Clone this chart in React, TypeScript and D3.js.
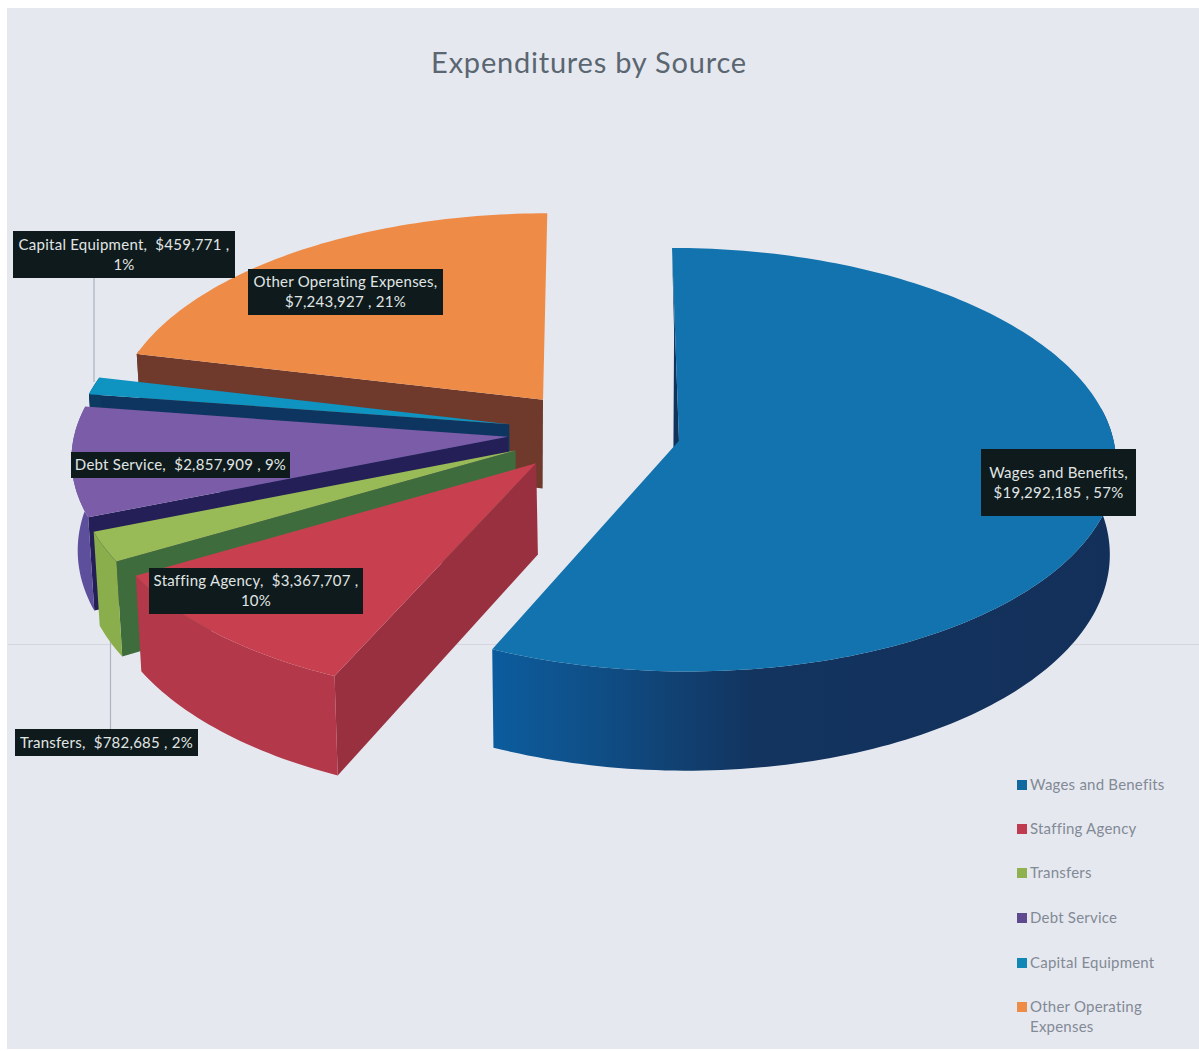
import React from "react";
import * as d3 from "d3";

// Expenditure amounts by category, in dollars
const categories = ["Wages and Benefits", "Staffing Agency", "Transfers", "Debt Service", "Capital Equipment", "Other Operating Expenses"];
const amounts = [19292185, 3367707, 782685, 2857909, 459771, 7243927];
const percentLabels = ["57%", "10%", "2%", "9%", "1%", "21%"];

// Palette: top face, outer rim, radial cut face
const topColors = ["#1273ae", "#c8404f", "#98bb57", "#7a5ca8", "#0f93c1", "#ee8b47"];
const rimColors = ["url(#wagesRim)", "#b3384a", "#8bae4c", "#5d4f9c", "#0d3a60", "#6f3a2b"];
const cutColors = ["#10335c", "#98303f", "#3f6c3d", "#241f56", "#0e3560", "#6f3a2b"];
const legendColors = ["#12699f", "#bf3b4f", "#8fb24f", "#5f4a8f", "#1087b5", "#ee8b47"];

// Pie projection parameters
const CX = 594, CY = 432, RX = 433, KY = 208.5, PERSPECTIVE = 0.089;
const EXPLODE = 0.2, DEPTH = 90, FLOOR_SCALE = 0.988;
const apexLean = [-5, 1, 0, 0, 0, -1];
const outerLean = [3, 0, 0, 0, 0, 0];
const sliceNudge = [0, 1, 0, 0, 0, 2];

// The outer wall only shows on the front of the pie
const RIM_FROM = (80 * Math.PI) / 180;
const RIM_TO = (285 * Math.PI) / 180;

type Pt = [number, number];

// Project a disc coordinate (x to the right, y towards the viewer) to screen space.
function project(x: number, y: number, drop: boolean): Pt {
  const s = 1 / (1 - PERSPECTIVE * y);
  const sx = CX + x * RX * s;
  const sy = CY + y * KY * s;
  if (!drop) return [sx, sy];
  return [CX + (sx - CX) * FLOOR_SCALE, sy + DEPTH * s];
}

const pieLayout = d3.pie<number>().sort(null).startAngle(0).endAngle(2 * Math.PI);
const line = d3.line();

// Label boxes: text lines derived from the data, plus box geometry
const money = d3.format("$,");
const labelText = (i: number): string[] => {
  const name = categories[i], val = money(amounts[i]), pct = percentLabels[i];
  if (i === 0 || i === 5) return [`${name},`, `${val} , ${pct}`];
  if (i === 1 || i === 4) return [`${name},  ${val} ,`, pct];
  return [`${name},  ${val} , ${pct}`];
};
const labelBoxes = [
  { x: 981, y: 449, w: 155, h: 67 },
  { x: 149, y: 568, w: 214, h: 46 },
  { x: 15, y: 729, w: 183, h: 27 },
  { x: 71, y: 452, w: 219, h: 26 },
  { x: 13, y: 231, w: 222, h: 47 },
  { x: 248, y: 269, w: 195, h: 46 },
];

const legendRows = [785, 829, 873, 918, 963, 1007];
const FONT = "Lato, 'Open Sans', sans-serif";

export default function App() {
  const arcs = pieLayout(amounts);

  const slices = arcs.map((a, i) => {
    const mid = (a.startAngle + a.endAngle) / 2;
    const ox = EXPLODE * Math.sin(mid);
    const oy = -EXPLODE * Math.cos(mid);
    const nudge = (p: Pt): Pt => [p[0] + sliceNudge[i], p[1]];
    const at = (theta: number, drop: boolean): Pt => nudge(project(ox + Math.sin(theta), oy - Math.cos(theta), drop));
    const apex = nudge(project(ox, oy, false));
    const apexLow = nudge(project(ox, oy, true));
    apexLow[0] += apexLean[i];
    const outerLow = at(a.startAngle, true);
    outerLow[0] += outerLean[i];
    const n = Math.max(6, Math.ceil((a.endAngle - a.startAngle) / 0.02));
    const thetas = d3.range(n + 1).map((k) => a.startAngle + ((a.endAngle - a.startAngle) * k) / n);
    const rimTheta = thetas.filter((t) => t >= RIM_FROM && t <= RIM_TO);
    const rimTop = rimTheta.map((t) => at(t, false));
    const rimLow = rimTheta.map((t) => at(t, true));
    return {
      i,
      top: line([apex, ...thetas.map((t) => at(t, false))])! + "Z",
      rim: rimTheta.length > 1 ? line([...rimTop, ...rimLow.slice().reverse()])! + "Z" : "",
      cutStart: line([apex, at(a.startAngle, false), outerLow, apexLow])! + "Z",
    };
  });

  // Back slices first, the front slice last
  const order = [5, 4, 3, 2, 1, 0];

  return (
    <svg width={1199} height={1051} viewBox="0 0 1199 1051" style={{ position: "absolute", left: 0, top: 0, display: "block" }} fontFamily={FONT}>
      <defs>
        <linearGradient id="wagesRim" x1="0" x2="1" y1="0" y2="0">
          <stop offset="0" stopColor="#0c5c9e" />
          <stop offset="0.15" stopColor="#0f5089" />
          <stop offset="0.42" stopColor="#12345f" />
          <stop offset="1" stopColor="#13305a" />
        </linearGradient>
      </defs>
      <rect width={1199} height={1051} fill="#ffffff" />
      <rect x={7} y={8} width={1192} height={1041} fill="#e6e8f0" />
      <line x1={8} x2={1199} y1={644.5} y2={644.5} stroke="#d3d6dd" strokeWidth={1} />

      <text x={589} y={72.5} textAnchor="middle" fontSize={29} letterSpacing={0.78} fill="#5a6670">Expenditures by Source</text>

      {/* Leader lines for the two outside labels */}
      <line x1={94} x2={94} y1={278} y2={382} stroke="#aab2bd" strokeWidth={1.2} />
      <line x1={110.5} x2={110.5} y1={640} y2={729} stroke="#aab2bd" strokeWidth={1.2} />

      {order.map((i) => {
        const s = slices[i];
        return (
          <g key={categories[i]}>
            <path d={s.cutStart} fill={cutColors[i]} />
            {s.rim && <path d={s.rim} fill={rimColors[i]} />}
            <path d={s.top} fill={topColors[i]} />
          </g>
        );
      })}

      {labelBoxes.map((b, i) => {
        const lines = labelText(i);
        const gap = 20;
        const first = b.y + b.h / 2 - ((lines.length - 1) * gap) / 2 + 5;
        return (
          <g key={categories[i]}>
            <rect x={b.x} y={b.y} width={b.w} height={b.h} fill="#0e1a1b" />
            {lines.map((t, k) => (
              <text key={k} x={b.x + b.w / 2} y={first + k * gap} textAnchor="middle" fontSize={15} letterSpacing={0.25} fill="#e0e5e5" xmlSpace="preserve">{t}</text>
            ))}
          </g>
        );
      })}

      {categories.map((c, i) => {
        const y = legendRows[i];
        const wrapped = i === 5 ? ["Other Operating", "Expenses"] : [c];
        return (
          <g key={c}>
            <rect x={1017} y={y - 5} width={10} height={10} fill={legendColors[i]} />
            {wrapped.map((t, k) => (
              <text key={k} x={1030} y={y + 5 + k * 20} fontSize={15} letterSpacing={0.22} fill="#828a95">{t}</text>
            ))}
          </g>
        );
      })}
    </svg>
  );
}
